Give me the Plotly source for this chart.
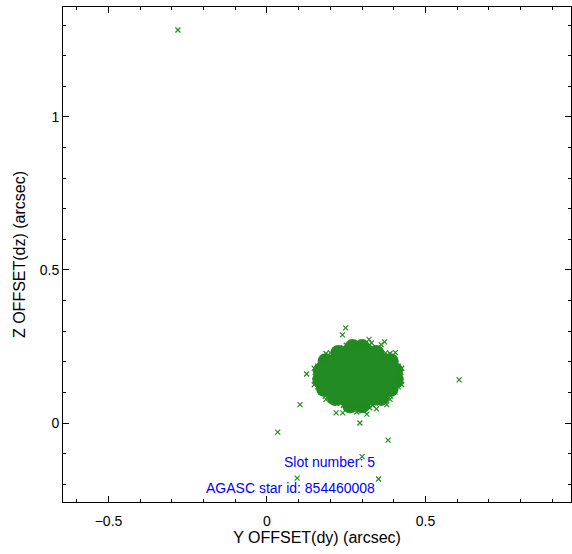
import plotly.graph_objects as go

GREEN = "#228B22"

# Dense core of the cluster (arcsec)
core_dy = [0.262, 0.300,
           0.215, 0.245, 0.275, 0.305, 0.335, 0.360,
           0.180, 0.210, 0.240, 0.270, 0.300, 0.330, 0.360, 0.390,
           0.168, 0.198, 0.228, 0.258, 0.288, 0.318, 0.348, 0.378, 0.406,
           0.170, 0.200, 0.230, 0.260, 0.290, 0.320, 0.350, 0.380, 0.404,
           0.185, 0.215, 0.245, 0.275, 0.305, 0.335, 0.365, 0.390,
           0.225, 0.255, 0.285, 0.315, 0.345,
           0.270, 0.300]
core_dz = [0.058, 0.058,
           0.082, 0.082, 0.082, 0.082, 0.082, 0.082,
           0.112, 0.112, 0.112, 0.112, 0.112, 0.112, 0.112, 0.112,
           0.142, 0.142, 0.142, 0.142, 0.142, 0.142, 0.142, 0.142, 0.142,
           0.172, 0.172, 0.172, 0.172, 0.172, 0.172, 0.172, 0.172, 0.172,
           0.202, 0.202, 0.202, 0.202, 0.202, 0.202, 0.202, 0.202,
           0.229, 0.229, 0.229, 0.229, 0.229,
           0.248, 0.248]

# Scattered samples around the cluster edge
edge_dy = [0.422, 0.420, 0.414, 0.404, 0.390, 0.374, 0.354, 0.333, 0.310, 0.287,
           0.264, 0.241, 0.220, 0.200, 0.184, 0.170, 0.160, 0.154, 0.152, 0.154,
           0.160, 0.170, 0.184, 0.200, 0.220, 0.241, 0.264, 0.287, 0.310, 0.333,
           0.354, 0.374, 0.390, 0.404, 0.414, 0.420,
           0.425, 0.388, 0.324, 0.250, 0.186, 0.149, 0.149, 0.186, 0.250, 0.324,
           0.388, 0.425,
           0.218, 0.239, 0.283, 0.315, 0.378, 0.330, 0.360, 0.300, 0.265, 0.345,
           0.417, 0.406, 0.380, 0.342, 0.298, 0.253, 0.212, 0.180, 0.160,
           0.157, 0.168, 0.194, 0.232, 0.276, 0.321, 0.362, 0.394, 0.414]
edge_dz = [0.152, 0.169, 0.186, 0.202, 0.216, 0.229, 0.239, 0.246, 0.250, 0.252,
           0.250, 0.246, 0.239, 0.229, 0.216, 0.202, 0.186, 0.169, 0.152, 0.135,
           0.118, 0.102, 0.088, 0.075, 0.065, 0.058, 0.054, 0.052, 0.054, 0.058,
           0.065, 0.075, 0.088, 0.102, 0.118, 0.135,
           0.179, 0.227, 0.254, 0.254, 0.227, 0.179, 0.125, 0.077, 0.050, 0.050,
           0.077, 0.125,
           0.033, 0.033, 0.036, 0.029, 0.060, 0.262, 0.256, 0.040, 0.044, 0.046,
           0.160, 0.193, 0.221, 0.240, 0.249, 0.246, 0.231, 0.208, 0.177,
           0.144, 0.111, 0.083, 0.064, 0.055, 0.058, 0.073, 0.096, 0.127]

# Isolated outliers
out_dy = [0.248, 0.238, 0.371, 0.405, 0.322, 0.125, 0.104, 0.034, 0.382,
          0.293, 0.300, 0.095, 0.352, 0.606, -0.281]
out_dz = [0.311, 0.288, 0.265, 0.230, 0.273, 0.160, 0.060, -0.030, -0.056,
          0.000, -0.110, -0.180, -0.183, 0.141, 1.284]

slot_number = 5
agasc_id = "854460008"

fig = go.Figure()
fig.add_trace(go.Scatter(x=core_dy, y=core_dz, mode="markers",
                         marker=dict(symbol="circle", size=16, color=GREEN,
                                     line=dict(width=0)),
                         hoverinfo="skip", showlegend=False))
fig.add_trace(go.Scatter(x=edge_dy + out_dy, y=edge_dz + out_dz, mode="markers",
                         marker=dict(symbol="x-thin", size=5,
                                     line=dict(width=1.2, color=GREEN)),
                         showlegend=False))

fig.add_annotation(x=0.347, y=-0.126, xref="x", yref="y", xanchor="right",
                   text=f"Slot number: {slot_number}", showarrow=False,
                   font=dict(color="blue", size=14))
fig.add_annotation(x=0.347, y=-0.212, xref="x", yref="y", xanchor="right",
                   text=f"AGASC star id: {agasc_id}", showarrow=False,
                   font=dict(color="blue", size=14))

axis_common = dict(showgrid=False, zeroline=False, showline=True, linecolor="black",
                   linewidth=1, mirror="allticks", ticks="inside", ticklen=6,
                   tickcolor="black", tickfont=dict(size=14, color="black"),
                   automargin=False,
                   minor=dict(ticks="inside", ticklen=3, dtick=0.1, tickcolor="black",
                              showgrid=False))

fig.update_xaxes(range=[-0.6435, 0.959], dtick=0.5, tick0=0, ticklabelstandoff=6,
                 title=dict(text="Y OFFSET(dy) (arcsec)", font=dict(size=16, color="black"),
                            standoff=4),
                 **axis_common)
fig.update_yaxes(range=[-0.258, 1.359], dtick=0.5, tick0=0,
                 title=dict(text="Z OFFSET(dz) (arcsec)", font=dict(size=16, color="black"),
                            standoff=10),
                 **axis_common)

fig.update_layout(width=572, height=554, autosize=False,
                  margin=dict(l=63, r=1, t=7, b=52),
                  plot_bgcolor="white", paper_bgcolor="white",
                  font=dict(family="Liberation Sans, Arial, sans-serif", color="black"))

fig.write_html("out.html", config={"responsive": False, "displayModeBar": False},
               default_width="572px", default_height="554px",
               post_script="document.body.style.margin='0';document.body.style.overflow='hidden';")
